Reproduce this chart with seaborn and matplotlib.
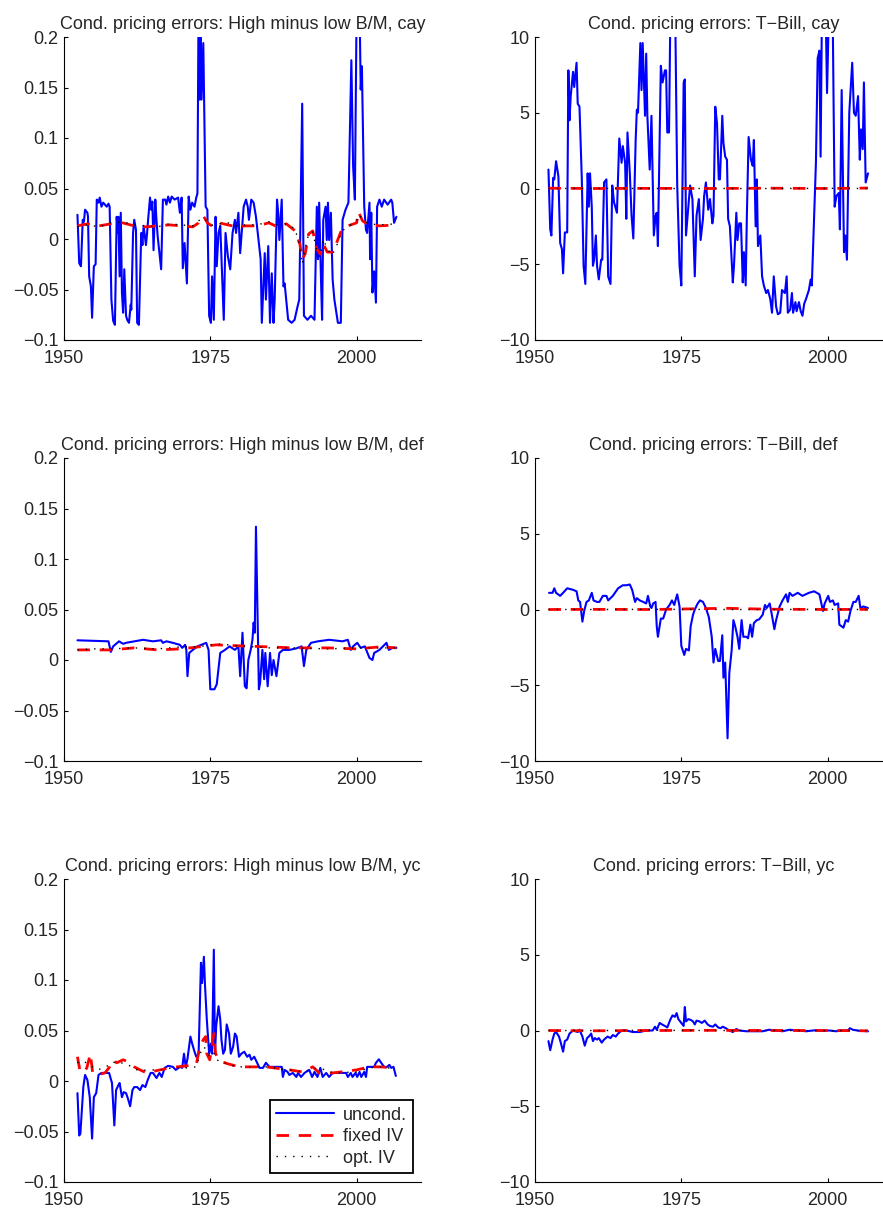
import pandas as pd
import seaborn as sns
import matplotlib.pyplot as plt

# ---- values ----
# High minus low B/M, cay
hml_cay_yr = [1952.3, 1952.6, 1952.9, 1953.2, 1953.4, 1953.6, 1954.0, 1954.1, 1954.3, 1954.6,
              1954.8, 1955.1, 1955.4, 1955.6, 1955.9, 1956.1, 1956.4, 1956.7, 1957.3, 1957.6,
              1957.8, 1958.1, 1958.4, 1958.7, 1959.0, 1959.2, 1959.3, 1959.5, 1959.7, 1959.9,
              1960.1, 1960.3, 1960.6, 1960.8, 1961.1, 1961.4, 1961.5, 1961.8, 1962.0, 1962.3,
              1962.5, 1962.8, 1963.2, 1963.4, 1963.6, 1964.0, 1964.2, 1964.4, 1964.7, 1964.9,
              1965.1, 1965.3, 1965.6, 1965.8, 1966.0, 1966.3, 1966.6, 1966.9, 1967.3, 1967.5,
              1967.8, 1968.1, 1968.4, 1968.9, 1969.5, 1969.8, 1970.1, 1970.3, 1970.6, 1971.0,
              1971.3, 1971.6, 1971.9, 1972.3, 1972.6, 1972.8, 1973.0, 1973.2, 1973.3, 1973.5,
              1973.8, 1974.2, 1974.5, 1974.8, 1975.1, 1975.3, 1975.6, 1975.9, 1976.1, 1976.4,
              1976.7, 1977.3, 1977.6, 1978.0, 1978.4, 1978.8, 1979.2, 1979.4, 1979.8, 1980.1,
              1980.7, 1981.1, 1981.4, 1981.6, 1982.0, 1982.4, 1982.8, 1983.6, 1983.8, 1984.3,
              1984.5, 1984.9, 1985.2, 1985.5, 1985.8, 1986.0, 1986.4, 1986.6, 1986.8, 1987.2,
              1987.5, 1987.7, 1988.3, 1988.9, 1989.4, 1989.9, 1990.2, 1990.7, 1991.0, 1991.6,
              1992.2, 1992.8, 1993.2, 1993.4, 1993.6, 1993.9, 1994.1, 1994.3, 1994.7, 1994.9,
              1995.1, 1995.3, 1995.6, 1995.9, 1996.2, 1996.8, 1997.3, 1997.6, 1998.1, 1998.6,
              1999.1, 1999.4, 1999.7, 2000.0, 2000.5, 2000.7, 2000.9, 2001.3, 2001.6, 2001.8,
              2002.2, 2002.3, 2002.5, 2002.7, 2003.0, 2003.3, 2003.5, 2003.9, 2004.3, 2004.7,
              2005.3, 2005.9, 2006.1, 2006.4, 2006.8]
hml_cay_unc = [0.024, -0.024, -0.027, 0.019, 0.017, 0.029, 0.026, 0.022, -0.037, -0.047,
               -0.078, -0.027, -0.025, 0.039, 0.036, 0.041, 0.032, 0.036, 0.032, 0.035,
               0.032, -0.060, -0.081, -0.085, 0.022, 0.006, 0.022, -0.037, 0.026, -0.053,
               -0.073, -0.030, -0.076, -0.080, -0.083, -0.065, -0.070, 0.006, 0.019, 0.009,
               -0.083, -0.085, 0.006, -0.006, 0.013, -0.006, 0.006, 0.021, 0.041, 0.029,
               0.037, -0.011, 0.039, 0.019, 0.003, -0.014, -0.030, 0.039, 0.039, 0.034,
               0.042, 0.036, 0.042, 0.039, 0.041, 0.026, 0.041, -0.029, -0.004, -0.044,
               0.042, 0.029, 0.036, 0.032, 0.041, 0.045, 0.240, 0.138, 0.220, 0.138,
               0.194, 0.032, 0.029, -0.076, -0.083, -0.037, -0.080, 0.022, -0.027, 0.006,
               0.013, -0.080, 0.006, -0.017, -0.030, 0.006, 0.019, 0.006, 0.026, -0.014,
               0.032, 0.039, 0.032, 0.019, 0.039, 0.036, 0.022, -0.020, -0.083, -0.014,
               -0.060, -0.007, -0.083, -0.034, -0.083, -0.060, 0.039, 0.026, -0.001, 0.039,
               -0.047, -0.044, -0.080, -0.083, -0.080, -0.067, -0.060, 0.134, -0.076, -0.080,
               -0.076, -0.080, 0.032, -0.020, 0.036, -0.037, -0.080, 0.019, 0.032, -0.001,
               0.036, -0.001, 0.026, -0.040, -0.060, -0.083, -0.083, 0.019, 0.029, 0.036,
               0.177, 0.072, 0.039, 0.230, 0.230, 0.148, 0.171, 0.032, 0.009, 0.006,
               0.036, -0.020, 0.026, -0.053, -0.032, -0.063, 0.032, 0.039, 0.032, 0.039,
               0.034, 0.039, 0.036, 0.016, 0.022]
hml_cay_iv_yr = [1952.3, 1954, 1956, 1958, 1960, 1962, 1964, 1966, 1968, 1970,
                 1972, 1973, 1973.8, 1974.5, 1975.5, 1976.5, 1978, 1979.5, 1981, 1983,
                 1985, 1986.5, 1988, 1989.5, 1990.3, 1990.7, 1991.2, 1991.8, 1992.5, 1993.2,
                 1993.8, 1994.3, 1995, 1995.8, 1996.5, 1997.5, 1998.5, 2000, 2000.3, 2001,
                 2002, 2004, 2006.8]
hml_cay_fix = [0.013, 0.015, 0.013, 0.015, 0.016, 0.013, 0.012, 0.013, 0.014, 0.013,
               0.012, 0.016, 0.023, 0.016, 0.012, 0.016, 0.014, 0.012, 0.013, 0.013,
               0.016, 0.012, 0.015, 0.008, -0.005, -0.020, -0.015, 0.005, 0.008, -0.010,
               -0.015, -0.005, -0.013, -0.013, -0.005, 0.010, 0.013, 0.016, 0.027, 0.018,
               0.014, 0.013, 0.014]
hml_cay_opt = [0.012, 0.014, 0.012, 0.016, 0.017, 0.014, 0.013, 0.012, 0.015, 0.014,
               0.013, 0.018, 0.021, 0.017, 0.013, 0.015, 0.016, 0.013, 0.014, 0.014,
               0.017, 0.014, 0.015, 0.010, -0.008, -0.025, -0.010, 0.005, 0.007, -0.012,
               -0.018, 0.000, -0.010, -0.016, -0.008, 0.008, 0.012, 0.018, 0.024, 0.020,
               0.015, 0.014, 0.015]

# T-Bill, cay
tb_cay_yr = [1952.3, 1952.6, 1952.8, 1953.1, 1953.3, 1953.6, 1954.0, 1954.3, 1954.6, 1954.8,
             1955.1, 1955.5, 1955.7, 1955.9, 1956.1, 1956.5, 1956.7, 1957.1, 1957.3, 1957.6,
             1958.0, 1958.3, 1958.6, 1959.0, 1959.2, 1959.4, 1959.7, 1959.9, 1960.1, 1960.4,
             1960.6, 1960.9, 1961.3, 1961.5, 1961.8, 1962.2, 1962.5, 1962.9, 1963.2, 1963.5,
             1964.0, 1964.4, 1964.8, 1965.0, 1965.4, 1965.6, 1965.8, 1966.2, 1966.5, 1966.8,
             1967.2, 1967.4, 1967.6, 1968.0, 1968.2, 1968.4, 1968.8, 1969.0, 1969.2, 1969.6,
             1969.9, 1970.3, 1970.6, 1970.8, 1971.0, 1971.5, 1971.8, 1972.2, 1972.4, 1972.6,
             1972.9, 1973.1, 1973.3, 1973.6, 1974.0, 1974.3, 1974.7, 1975.0, 1975.4, 1975.6,
             1975.8, 1976.2, 1976.5, 1976.9, 1977.3, 1977.6, 1978.0, 1978.3, 1978.7, 1978.9,
             1979.2, 1979.6, 1979.9, 1980.3, 1980.5, 1980.8, 1981.1, 1981.4, 1981.6, 1982.0,
             1982.2, 1982.5, 1982.8, 1983.0, 1983.3, 1983.8, 1984.0, 1984.4, 1984.6, 1984.9,
             1985.2, 1985.5, 1985.7, 1986.0, 1986.2, 1986.5, 1986.9, 1987.2, 1987.4, 1987.7,
             1987.9, 1988.1, 1988.5, 1988.8, 1989.1, 1989.5, 1989.8, 1990.2, 1990.5, 1990.8,
             1991.2, 1991.5, 1991.9, 1992.2, 1992.7, 1993.0, 1993.2, 1993.6, 1993.9, 1994.1,
             1994.5, 1994.7, 1995.1, 1995.4, 1995.7, 1996.0, 1996.3, 1996.8, 1997.1, 1997.3,
             1997.7, 1998.0, 1998.3, 1998.6, 1998.8, 1999.0, 1999.4, 1999.7, 1999.9, 2000.2,
             2000.6, 2000.9, 2001.2, 2001.5, 2001.9, 2002.1, 2002.4, 2002.8, 2003.0, 2003.3,
             2003.7, 2004.2, 2004.5, 2004.8, 2005.2, 2005.5, 2005.7, 2006.0, 2006.2, 2006.5,
             2006.9]
tb_cay_unc = [1.25, -2.7, -3.1, 0.7, 0.6, 1.8, 0.8, -3.6, -4.0, -5.6,
              -2.9, -2.9, 7.8, 4.5, 6.1, 7.7, 6.7, 8.3, 5.6, 5.4,
              0.6, -5.1, -6.3, 1.0, -1.2, 1.0, -1.2, -5.1, -4.7, -3.1,
              -5.1, -6.0, -4.7, -4.7, 0.4, 0.6, -5.8, -6.3, 0.2, -0.9,
              -1.6, 3.3, 1.7, 2.8, 1.7, -2.0, 3.7, 1.0, -1.8, -3.3,
              3.2, 5.2, 5.0, 9.6, 6.5, 9.6, 4.8, 8.9, 4.8, 1.25,
              4.8, -3.1, -1.8, -1.6, -3.8, 8.1, 7.0, 7.8, 7.8, 3.7,
              3.7, 10.5, 11.8, 11.8, 10.2, 0.2, -5.1, -6.4, 7.0, 7.2,
              -3.1, -1.2, 0.2, -0.7, -5.8, -1.8, -0.7, -3.4, -2.0, -0.5,
              0.4, -1.4, -0.7, -2.3, -1.8, 5.4, 4.3, 0.6, 0.6, 4.8,
              3.0, 2.1, 1.9, -2.0, -2.5, -6.2, -5.1, -1.6, -3.4, -2.3,
              -2.3, -6.2, -4.2, -6.4, -1.8, 3.4, 1.9, 1.5, 3.2, -2.5,
              0.6, -3.8, -3.1, -5.8, -6.4, -6.9, -6.7, -7.3, -8.2, -5.8,
              -7.8, -8.3, -8.2, -6.7, -6.9, -5.8, -8.2, -8.0, -6.9, -8.2,
              -7.5, -8.1, -7.5, -8.1, -8.4, -7.6, -7.3, -6.7, -6.0, -6.4,
              -1.8, 1.7, 8.6, 9.1, 2.1, 10.5, 11.0, 11.0, 6.3, 11.5,
              11.5, 10.2, -1.2, -0.5, -0.3, -2.7, 6.5, -4.2, -3.1, -4.7,
              5.0, 8.3, 5.0, 4.8, 6.1, 1.9, 3.9, 2.6, 7.0, 0.4,
              1.0]
tb_cay_iv_yr = [1952.3, 1960, 1970, 1980, 1990, 2000, 2006.9]
tb_cay_fix = [0.02, 0.0, 0.01, 0.0, 0.02, 0.0, 0.03]
tb_cay_opt = [0.0, 0.01, 0.0, 0.0, 0.0, 0.01, 0.0]

# High minus low B/M, def
hml_def_yr = [1952.3, 1957.6, 1958.0, 1958.4, 1959.4, 1960.1, 1960.6, 1963.5, 1965.2, 1966.6,
              1966.9, 1967.5, 1968.6, 1969.8, 1970.2, 1970.7, 1970.9, 1971.1, 1971.4, 1972.0,
              1972.8, 1974.3, 1974.7, 1975.0, 1975.7, 1976.1, 1976.7, 1977.5, 1978.3, 1979.2,
              1979.8, 1980.1, 1980.5, 1980.9, 1981.2, 1981.5, 1981.9, 1982.2, 1982.4, 1982.6,
              1982.8, 1983.3, 1983.5, 1983.9, 1984.2, 1984.4, 1984.8, 1985.2, 1985.5, 1985.8,
              1986.3, 1986.8, 1987.4, 1988.5, 1989.7, 1990.6, 1991.0, 1991.4, 1992.2, 1993.4,
              1995.3, 1997.6, 1998.5, 1999.0, 1999.4, 2000.1, 2000.7, 2001.4, 2002.2, 2002.7,
              2003.0, 2003.9, 2005.1, 2005.5, 2006.1, 2006.8]
hml_def_unc = [0.0195, 0.0185, 0.008, 0.0135, 0.0185, 0.016, 0.017, 0.020, 0.0185, 0.0195,
               0.017, 0.0185, 0.017, 0.015, 0.012, 0.015, 0.010, -0.016, 0.007, 0.010,
               0.0135, 0.017, 0.010, -0.029, -0.029, -0.024, 0.007, 0.010, 0.0135, 0.010,
               0.0135, -0.016, 0.027, -0.026, -0.028, 0.000, 0.010, 0.020, 0.037, 0.027,
               0.132, -0.029, -0.023, 0.010, -0.019, 0.007, -0.026, 0.007, -0.015, 0.000,
               -0.016, 0.007, 0.010, 0.010, 0.0115, 0.0135, -0.006, 0.010, 0.017, 0.0185,
               0.020, 0.0185, 0.020, 0.010, 0.0135, 0.017, 0.012, 0.0135, 0.002, 0.000,
               0.007, 0.010, 0.017, 0.010, 0.012, 0.012]
hml_def_iv_yr = [1952.3, 1955, 1958, 1962, 1966, 1970, 1973, 1976, 1980, 1985,
                 1989, 1995, 2000, 2004, 2006.8]
hml_def_fix = [0.010, 0.010, 0.010, 0.012, 0.010, 0.011, 0.013, 0.015, 0.014, 0.013,
               0.012, 0.012, 0.011, 0.013, 0.012]
hml_def_opt = [0.010, 0.011, 0.011, 0.012, 0.011, 0.013, 0.013, 0.016, 0.014, 0.012,
               0.012, 0.011, 0.012, 0.012, 0.012]

# T-Bill, def
tb_def_yr = [1952.4, 1953.0, 1953.3, 1953.6, 1954.3, 1954.8, 1955.5, 1956.5, 1957.1, 1957.4,
             1957.7, 1958.1, 1958.4, 1958.8, 1959.2, 1959.7, 1960.0, 1960.6, 1961.0, 1961.6,
             1962.2, 1962.5, 1963.3, 1964.2, 1965.0, 1965.6, 1966.2, 1966.6, 1967.1, 1967.4,
             1967.9, 1968.5, 1969.0, 1969.3, 1969.7, 1969.9, 1970.2, 1970.6, 1970.8, 1971.0,
             1971.5, 1971.9, 1972.4, 1973.0, 1973.4, 1973.8, 1974.0, 1974.3, 1974.7, 1975.0,
             1975.5, 1975.8, 1976.3, 1976.6, 1977.0, 1977.3, 1977.8, 1978.2, 1978.7, 1979.2,
             1979.7, 1980.2, 1980.5, 1980.8, 1981.3, 1981.6, 1982.0, 1982.2, 1982.5, 1982.9,
             1983.2, 1983.6, 1983.9, 1984.2, 1984.6, 1984.9, 1985.3, 1985.6, 1986.1, 1986.4,
             1986.8, 1987.1, 1987.4, 1987.9, 1988.3, 1988.9, 1989.3, 1989.6, 1990.1, 1990.4,
             1990.9, 1991.2, 1991.8, 1992.3, 1992.9, 1993.2, 1993.5, 1994.0, 1994.9, 1995.7,
             1996.8, 1997.7, 1998.6, 1999.2, 1999.5, 2000.1, 2000.4, 2000.9, 2001.2, 2001.8,
             2002.0, 2002.7, 2003.1, 2003.5, 2003.9, 2004.4, 2004.8, 2005.3, 2005.6, 2006.1,
             2006.5, 2006.9]
tb_def_unc = [1.1, 1.1, 1.4, 1.1, 0.9, 1.1, 1.4, 1.3, 1.2, 0.6,
              0.5, -0.8, -0.1, 0.5, 0.6, 1.1, 0.6, 0.5, 0.5, 0.9,
              0.9, 0.6, 0.9, 1.4, 1.6, 1.6, 1.65, 1.3, 0.5, 0.75,
              0.6, 0.5, 0.4, 0.9, 0.2, 0.1, 0.4, 0.5, -1.1, -1.8,
              -0.6, -0.6, 0.0, 0.3, 0.6, 0.3, 0.6, 1.0, 0.2, -2.4,
              -3.0, -2.6, -2.7, -1.1, -0.35, 0.0, 0.4, 0.6, 0.5, 0.1,
              -0.5, -1.8, -3.5, -2.6, -3.4, -3.4, -1.7, -4.5, -3.5, -8.5,
              -4.2, -2.7, -0.7, -1.1, -1.8, -2.6, -0.7, -1.8, -1.8, -1.9,
              -1.0, -1.8, -0.9, -0.7, -0.65, -0.35, 0.3, 0.1, 0.4, -0.2,
              -1.3, -0.7, 0.2, 0.6, 1.0, 0.5, 1.1, 0.9, 1.1, 0.9,
              1.1, 1.2, 1.0, -0.1, 0.4, 0.9, 0.5, 0.6, 0.3, 0.4,
              -1.0, -1.2, -0.7, -0.8, -0.1, 0.5, 0.5, 0.9, 0.1, 0.2,
              0.15, 0.1]
tb_def_iv_yr = [1952.3, 1960, 1970, 1982.5, 1990, 2000, 2006.9]
tb_def_fix = [0.0, 0.01, 0.0, 0.08, 0.02, 0.0, 0.01]
tb_def_opt = [0.0, 0.0, 0.01, 0.0, 0.0, 0.01, 0.0]

# High minus low B/M, yc
hml_yc_yr = [1952.3, 1952.6, 1952.8, 1953.3, 1953.6, 1954.0, 1954.4, 1954.8, 1955.1, 1955.5,
             1955.9, 1956.4, 1957.0, 1957.7, 1958.2, 1958.6, 1958.9, 1959.3, 1959.5, 1959.9,
             1960.2, 1960.6, 1960.9, 1961.3, 1961.7, 1962.0, 1962.5, 1963.0, 1963.4, 1963.9,
             1964.3, 1964.8, 1965.2, 1965.8, 1966.3, 1966.7, 1967.2, 1967.8, 1968.6, 1969.1,
             1969.8, 1970.2, 1970.5, 1970.8, 1971.1, 1971.6, 1971.9, 1972.3, 1972.6, 1973.0,
             1973.4, 1973.6, 1973.9, 1974.1, 1974.4, 1974.8, 1975.1, 1975.3, 1975.6, 1975.8,
             1976.0, 1976.4, 1976.7, 1976.9, 1977.2, 1977.5, 1977.8, 1978.2, 1978.5, 1978.9,
             1979.2, 1979.5, 1979.9, 1980.3, 1980.8, 1981.3, 1981.7, 1982.0, 1982.5, 1983.0,
             1983.4, 1984.0, 1984.5, 1985.1, 1986.3, 1987.2, 1987.4, 1987.7, 1988.2, 1988.5,
             1989.1, 1989.7, 1990.0, 1990.5, 1991.1, 1991.9, 1992.4, 1992.8, 1993.3, 1993.8,
             1994.2, 1994.8, 1995.3, 1995.9, 1997.0, 1998.2, 1998.5, 1999.0, 1999.3, 1999.8,
             2000.1, 2000.5, 2000.8, 2001.3, 2001.6, 2001.8, 2002.3, 2003.0, 2003.3, 2003.8,
             2004.2, 2004.7, 2005.1, 2005.6, 2005.9, 2006.3, 2006.7]
hml_yc_unc = [-0.012, -0.054, -0.052, -0.006, 0.006, 0.001, -0.016, -0.057, -0.016, -0.012,
              0.006, 0.008, 0.008, 0.008, -0.002, -0.044, -0.009, -0.004, -0.002, -0.016,
              -0.011, -0.012, -0.017, -0.025, -0.009, -0.006, -0.006, -0.009, -0.004, -0.006,
              0.001, 0.008, 0.008, 0.003, 0.008, 0.004, 0.013, 0.015, 0.014, 0.011,
              0.014, 0.013, 0.027, 0.014, 0.022, 0.044, 0.037, 0.029, 0.024, 0.027,
              0.117, 0.097, 0.123, 0.094, 0.061, 0.027, 0.037, 0.027, 0.130, 0.027,
              0.054, 0.074, 0.061, 0.041, 0.027, 0.031, 0.056, 0.047, 0.027, 0.034,
              0.047, 0.044, 0.024, 0.027, 0.029, 0.024, 0.026, 0.021, 0.024, 0.018,
              0.013, 0.013, 0.018, 0.014, 0.014, 0.014, 0.004, 0.011, 0.009, 0.006,
              0.008, 0.004, 0.008, 0.004, 0.008, 0.011, 0.004, 0.009, 0.004, 0.013,
              0.004, 0.008, 0.004, 0.008, 0.008, 0.008, 0.004, 0.008, 0.004, 0.008,
              0.004, 0.009, 0.004, 0.009, 0.004, 0.014, 0.014, 0.014, 0.018, 0.0215,
              0.018, 0.014, 0.0135, 0.016, 0.013, 0.014, 0.005]
hml_yc_iv_yr = [1952.3, 1952.7, 1953.3, 1953.9, 1954.5, 1954.9, 1955.6, 1957, 1957.8, 1958.4,
                1959, 1960.1, 1961, 1962, 1963, 1964.1, 1966.4, 1968.6, 1970.9, 1972.6,
                1973.2, 1973.8, 1974.2, 1974.4, 1974.9, 1975.2, 1975.6, 1975.9, 1976.4, 1977,
                1978, 1980, 1984.5, 1988.5, 1990.8, 1992.5, 1993.6, 1996, 2000, 2002.2,
                2004, 2006.7]
hml_yc_fix = [0.024, 0.011, 0.008, 0.013, 0.027, 0.008, 0.006, 0.008, 0.014, 0.021,
              0.018, 0.021, 0.019, 0.014, 0.011, 0.008, 0.011, 0.0135, 0.015, 0.016,
              0.034, 0.041, 0.044, 0.027, 0.021, 0.031, 0.047, 0.027, 0.022, 0.019,
              0.017, 0.014, 0.014, 0.011, 0.009, 0.014, 0.008, 0.008, 0.011, 0.014,
              0.014, 0.013]
hml_yc_opt = [0.018, 0.020, 0.019, 0.018, 0.016, 0.014, 0.011, 0.013, 0.017, 0.019,
              0.017, 0.018, 0.016, 0.012, 0.010, 0.011, 0.011, 0.013, 0.013, 0.014,
              0.026, 0.034, 0.032, 0.030, 0.024, 0.026, 0.028, 0.022, 0.020, 0.020,
              0.016, 0.014, 0.014, 0.011, 0.009, 0.012, 0.013, 0.008, 0.009, 0.013,
              0.014, 0.012]

# T-Bill, yc
tb_yc_yr = [1952.3, 1952.6, 1953.0, 1953.3, 1953.6, 1954.1, 1954.4, 1954.8, 1955.1, 1955.5,
            1955.9, 1956.5, 1957.3, 1957.6, 1958.1, 1958.5, 1958.9, 1959.2, 1959.6, 1959.9,
            1960.2, 1960.6, 1960.9, 1961.4, 1961.8, 1962.4, 1962.9, 1963.3, 1963.8, 1964.2,
            1964.8, 1965.6, 1966.7, 1967.9, 1969.0, 1970.1, 1970.5, 1970.8, 1971.3, 1971.7,
            1972.2, 1972.6, 1973.1, 1973.5, 1973.9, 1974.2, 1974.5, 1975.0, 1975.4, 1975.6,
            1975.8, 1976.2, 1976.6, 1977.0, 1977.3, 1977.6, 1978.1, 1978.5, 1979.0, 1979.5,
            1979.9, 1980.4, 1980.8, 1981.3, 1981.7, 1982.1, 1982.6, 1983.2, 1983.8, 1984.4,
            1984.9, 1986.1, 1987.8, 1988.9, 1990.0, 1991.2, 1992.3, 1993.5, 1995.1, 1996.3,
            1998.0, 1999.1, 2000.3, 2001.4, 2002.6, 2003.5, 2003.8, 2004.3, 2005.4, 2006.9]
tb_yc_unc = [-0.7, -1.3, -0.6, -0.2, -0.1, -0.4, -0.8, -1.4, -0.7, -0.6,
             -0.2, 0.0, -0.1, 0.05, -0.4, -1.0, -0.5, -0.4, -0.2, -0.7,
             -0.5, -0.6, -0.5, -0.8, -0.6, -0.4, -0.5, -0.3, -0.4, -0.2,
             0.0, 0.0, -0.1, -0.1, 0.0, 0.0, 0.25, 0.05, 0.5, 0.4,
             0.3, 0.2, 0.7, 1.0, 0.9, 1.15, 0.75, 0.5, 0.3, 1.55,
             0.6, 0.75, 0.7, 0.6, 0.4, 0.65, 0.6, 0.5, 0.65, 0.4,
             0.3, 0.25, 0.4, 0.2, 0.15, 0.25, 0.15, 0.0, -0.1, 0.1,
             0.0, -0.05, -0.05, -0.05, 0.05, 0.0, -0.05, 0.05, 0.0, -0.05,
             0.02, -0.02, 0.0, -0.05, 0.0, 0.0, 0.15, 0.05, -0.02, -0.05]
tb_yc_iv_yr = [1952.3, 1960, 1970, 1980, 1990, 2000, 2006.9]
tb_yc_fix = [0.0, -0.02, 0.0, 0.01, 0.0, 0.0, -0.02]
tb_yc_opt = [0.0, 0.0, 0.01, 0.0, 0.0, -0.01, 0.0]

titles = ['Cond. pricing errors: High minus low B/M, cay', 'Cond. pricing errors: T\u2212Bill, cay',
          'Cond. pricing errors: High minus low B/M, def', 'Cond. pricing errors: T\u2212Bill, def',
          'Cond. pricing errors: High minus low B/M, yc', 'Cond. pricing errors: T\u2212Bill, yc']
legend_labels = ['uncond.', 'fixed IV', 'opt. IV']
year_ticks = [1950, 1975, 2000]
hml_ticks = [-0.1, -0.05, 0, 0.05, 0.1, 0.15, 0.2]
hml_ticklabels = ['\u22120.1', '\u22120.05', '0', '0.05', '0.1', '0.15', '0.2']
tb_ticks = [-10, -5, 0, 5, 10]
tb_ticklabels = ['\u221210', '\u22125', '0', '5', '10']

panels = [
    (hml_cay_yr, hml_cay_unc, hml_cay_iv_yr, hml_cay_fix, hml_cay_opt),
    (tb_cay_yr, tb_cay_unc, tb_cay_iv_yr, tb_cay_fix, tb_cay_opt),
    (hml_def_yr, hml_def_unc, hml_def_iv_yr, hml_def_fix, hml_def_opt),
    (tb_def_yr, tb_def_unc, tb_def_iv_yr, tb_def_fix, tb_def_opt),
    (hml_yc_yr, hml_yc_unc, hml_yc_iv_yr, hml_yc_fix, hml_yc_opt),
    (tb_yc_yr, tb_yc_unc, tb_yc_iv_yr, tb_yc_fix, tb_yc_opt),
]

sns.set_theme(style='ticks')
plt.rcParams['font.family'] = ['Liberation Sans', 'DejaVu Sans']
plt.rcParams['xtick.direction'] = 'in'
plt.rcParams['ytick.direction'] = 'in'
plt.rcParams['axes.linewidth'] = 0.8
plt.rcParams['axes.edgecolor'] = 'black'

fig = plt.figure(figsize=(8.83, 12.09), dpi=100)

W, H = 883, 1209
col_left = [64, 535]
row_top = [37, 458, 879]
ax_w, ax_h = 357, 303

for i, (yr, unc, iv_yr, fix, opt) in enumerate(panels):
    r, c = divmod(i, 2)
    ax = fig.add_axes([col_left[c] / W, 1 - (row_top[r] + ax_h) / H, ax_w / W, ax_h / H])
    show_leg = (i == 4)
    sns.lineplot(x=yr, y=unc, ax=ax, color='blue', lw=1.5, estimator=None, sort=False,
                 label=legend_labels[0] if show_leg else None)
    sns.lineplot(x=iv_yr, y=fix, ax=ax, color='red', lw=2, linestyle=(0, (4.5, 3.5)),
                 estimator=None, sort=False, label=legend_labels[1] if show_leg else None)
    sns.lineplot(x=iv_yr, y=opt, ax=ax, color='black', lw=1, linestyle=(0, (1, 5)),
                 estimator=None, sort=False, label=legend_labels[2] if show_leg else None)

    ax.set_xlim(1950, 2011)
    ax.set_xticks(year_ticks)
    ax.set_xticklabels([str(t) for t in year_ticks])
    if c == 0:
        ax.set_ylim(-0.1, 0.2)
        ax.set_yticks(hml_ticks)
        ax.set_yticklabels(hml_ticklabels)
    else:
        ax.set_ylim(-10, 10)
        ax.set_yticks(tb_ticks)
        ax.set_yticklabels(tb_ticklabels)
    ax.tick_params(labelsize=13, length=3, width=0.8, color='black', pad=4)
    ax.tick_params(axis='x', pad=7)
    ax.set_xlabel('')
    ax.set_ylabel('')
    ax.set_title(titles[i], fontsize=13, pad=6)
    sns.despine(ax=ax)

    if show_leg:
        leg = ax.legend(loc='lower right', bbox_to_anchor=(0.978, 0.03), fontsize=13,
                        frameon=True, fancybox=False, framealpha=1, edgecolor='black',
                        handlelength=3.2, labelspacing=0.25, borderpad=0.35,
                        handletextpad=0.5, borderaxespad=0)
        leg.get_frame().set_linewidth(1.3)
    elif ax.get_legend() is not None:
        ax.get_legend().remove()

fig.savefig('out.png', dpi=100)
